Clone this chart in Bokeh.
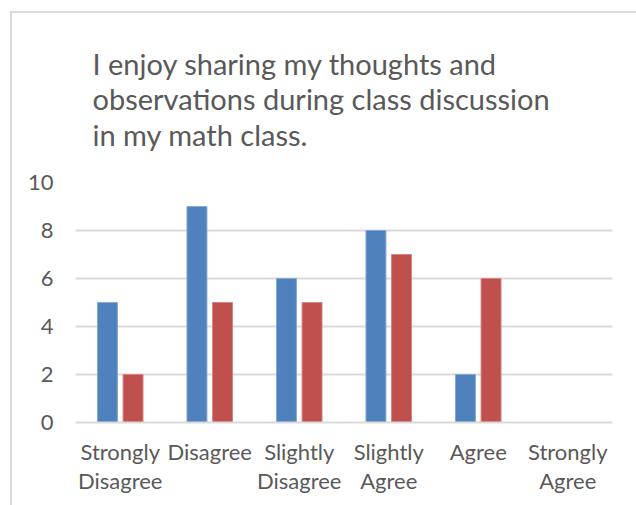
from bokeh.plotting import figure
from bokeh.models import (FactorRange, Range1d, ColumnDataSource, Title, SingleIntervalTicker,
                          CategoricalAxis, CustomJSTickFormatter)
from bokeh.transform import dodge
from bokeh.embed import file_html
from bokeh.resources import INLINE

categories = ["Strongly Disagree", "Disagree", "Slightly Disagree", "Slightly Agree", "Agree", "Strongly Agree"]
label_line1 = ["Strongly", "Disagree", "Slightly", "Slightly", "Agree", "Strongly"]
label_line2 = ["Disagree", "", "Disagree", "Agree", "", "Agree"]
series1 = [5, 9, 6, 8, 2, 0]
series2 = [2, 5, 5, 7, 6, 0]
title_lines = ["I enjoy sharing my thoughts and", "observations during class discussion", "in my math class."]

FONT = "Lato"
TXT = "#595959"
GRID = "#d9d9d9"
W, H = 636, 505

src = ColumnDataSource(dict(cat=categories, s1=series1, s2=series2))

p = figure(
    x_range=FactorRange(*categories, range_padding=0),
    y_range=Range1d(0, 10),
    width=W, height=H,
    output_backend="svg", toolbar_location=None,
    x_axis_location=None,
    min_border_left=75, min_border_right=24, min_border_top=182, min_border_bottom=83,
    outline_line_color=None,
    border_fill_color=None, background_fill_color="white",
)

p.vbar(x=dodge("cat", -0.143, range=p.x_range), top="s1", width=0.223, source=src,
       fill_color="#4f81bd", line_color="#86a8d3", line_width=1)
p.vbar(x=dodge("cat", 0.143, range=p.x_range), top="s2", width=0.223, source=src,
       fill_color="#c0504d", line_color="#d48583", line_width=1)

t = Title(text="\n".join(title_lines), align="left", offset=17, text_font=FONT,
          text_font_size="29px", text_font_style="normal", text_color=TXT,
          text_line_height=1.02, standoff=58, vertical_align="top")
p.add_layout(t, "above")

p.yaxis.ticker = SingleIntervalTicker(interval=2)
p.yaxis.axis_line_color = None
p.yaxis.major_tick_line_color = None
p.yaxis.minor_tick_line_color = None
p.yaxis.major_tick_out = 0
p.yaxis.major_label_standoff = 18
p.yaxis.major_label_text_font = FONT
p.yaxis.major_label_text_font_size = "22px"
p.yaxis.major_label_text_color = TXT

fmt_code = "const i = cats.indexOf(tick); return i < 0 ? '' : labels[i];"
ax1 = CategoricalAxis(
    formatter=CustomJSTickFormatter(args=dict(cats=categories, labels=label_line1), code=fmt_code),
    axis_line_color=GRID, axis_line_width=2,
    major_tick_line_color=None, minor_tick_line_color=None, major_tick_out=0,
    major_label_standoff=15, major_label_text_font=FONT, major_label_text_font_size="22px",
    major_label_text_color=TXT,
)
ax2 = CategoricalAxis(
    formatter=CustomJSTickFormatter(args=dict(cats=categories, labels=label_line2), code=fmt_code),
    axis_line_color=None,
    major_tick_line_color=None, minor_tick_line_color=None, major_tick_out=0,
    major_label_standoff=-1, major_label_text_font=FONT, major_label_text_font_size="22px",
    major_label_text_color=TXT,
)
p.add_layout(ax1, "below")
p.add_layout(ax2, "below")

p.xgrid.grid_line_color = None
p.ygrid.grid_line_color = GRID
p.ygrid.grid_line_width = 2

# light grey chart-area frame (left and top edges) painted behind the transparent canvas
p.styles = {
    "background": "linear-gradient(#d9d9d9, #d9d9d9) 10px 11px / 2px 100% no-repeat, "
                  "linear-gradient(#d9d9d9, #d9d9d9) 10px 11px / 100% 2px no-repeat, white",
}

open("out.html", "w").write(file_html(p, INLINE))
